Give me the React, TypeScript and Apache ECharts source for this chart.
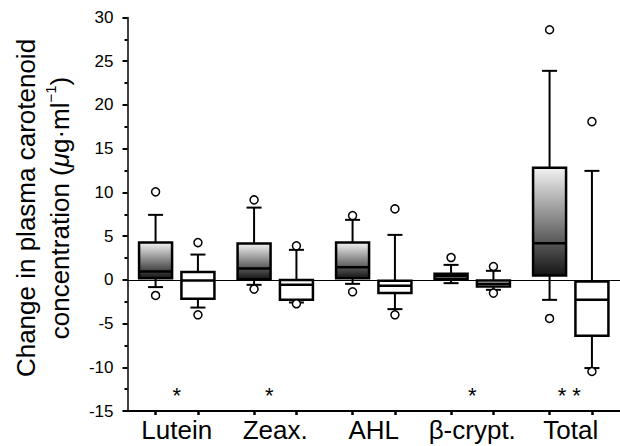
import React, { useEffect, useRef } from 'react';
import * as echarts from 'echarts';

const categories = ['Lutein', 'Zeax.', 'AHL', 'β-crypt.', 'Total'];
// [lower whisker, Q1, median, Q3, upper whisker]
const shadedBoxes = [
  [-0.83, 0.19, 0.95, 4.26, 7.43],
  [-0.57, 0.08, 1.29, 4.15, 8.26],
  [-0.46, 0.19, 1.45, 4.26, 6.86],
  [-0.38, 0.08, 0.46, 0.69, 1.71],
  [-2.29, 0.49, 4.19, 12.83, 23.9],
];
const whiteBoxes = [
  [-3.17, -2.17, -0.08, 0.91, 2.89],
  [-2.59, -2.29, -0.57, -0.02, 3.43],
  [-3.35, -1.52, -0.69, -0.1, 5.14],
  [-1.14, -0.77, -0.46, -0.08, 1.03],
  [-10.09, -6.4, -2.29, -0.19, 12.46],
];
// [category index, value]
const shadedOutliers = [
  [0, 10.06], [0, -1.79],
  [1, 9.14], [1, -1.06],
  [2, 7.35], [2, -1.37],
  [3, 2.55],
  [4, 28.6], [4, -4.42],
];
const whiteOutliers = [
  [0, 4.26], [0, -4.0],
  [1, 3.89], [1, -2.74],
  [2, 8.11], [2, -4.0],
  [3, 1.52], [3, -1.52],
  [4, 18.09], [4, -10.48],
];
// [category index, marker text]
const significance: [number, string][] = [
  [0, '*'],
  [1, '*'],
  [3, '*'],
  [4, '* *'],
];
const sigLevel = -13.2;
const yMin = -15;
const yMax = 30;
const yInterval = 5;

const FONT = "'Liberation Sans', Arial, Helvetica, sans-serif";
const GROUP_OFFSET = 0.215;
const sigShiftPx: Record<number, number> = { 1: -6, 4: -1.5 };

function makeBoxSeries(boxes: number[][], offset: number, shaded: boolean) {
  return {
    type: 'custom',
    xAxisIndex: 1,
    yAxisIndex: 0,
    z: 3,
    data: boxes.map((b, i) => [i + offset, ...b]),
    encode: { x: 0, y: [1, 2, 3, 4, 5] },
    renderItem: (params: any, api: any) => {
      const x = api.value(0);
      const pts = [1, 2, 3, 4, 5].map((d) => api.coord([x, api.value(d)]));
      const cx = pts[0][0];
      const [lo, q1, med, q3, hi] = pts.map((p: number[]) => p[1]);
      const half = 16.5;
      const cap = 7.5;
      const stroke = { stroke: '#000', lineWidth: 2 };
      const fill = shaded
        ? new echarts.graphic.LinearGradient(0, 0, 0, 1, [
            { offset: 0, color: '#f2f2f2' },
            { offset: 1, color: '#151515' },
          ])
        : '#fff';
      return {
        type: 'group',
        children: [
          { type: 'line', shape: { x1: cx, y1: q3, x2: cx, y2: hi }, style: stroke },
          { type: 'line', shape: { x1: cx - cap, y1: hi, x2: cx + cap, y2: hi }, style: stroke },
          { type: 'line', shape: { x1: cx, y1: q1, x2: cx, y2: lo }, style: stroke },
          { type: 'line', shape: { x1: cx - cap, y1: lo, x2: cx + cap, y2: lo }, style: stroke },
          {
            type: 'rect',
            shape: { x: cx - half, y: q3, width: half * 2, height: q1 - q3 },
            style: { fill, stroke: '#000', lineWidth: 2.5 },
          },
          {
            type: 'line',
            shape: { x1: cx - half, y1: med, x2: cx + half, y2: med },
            style: { stroke: '#000', lineWidth: 2.5 },
          },
        ],
      };
    },
  };
}

function makeOutlierSeries(points: number[][], offset: number) {
  return {
    type: 'scatter',
    xAxisIndex: 1,
    yAxisIndex: 0,
    z: 4,
    symbol: 'circle',
    symbolSize: 8,
    itemStyle: { color: '#fff', borderColor: '#000', borderWidth: 1.5, opacity: 1 },
    data: points.map((p) => [p[0] + offset, p[1]]),
  };
}

export default function App() {
  const ref = useRef<HTMLDivElement>(null);
  useEffect(() => {
    if (!ref.current) return;
    const chart = echarts.init(ref.current, null, { renderer: 'svg' });
    const tickPositions: number[] = [];
    categories.forEach((_, i) => {
      tickPositions.push(i - GROUP_OFFSET, i + GROUP_OFFSET);
    });
    chart.setOption({
      animation: false,
      backgroundColor: '#fff',
      grid: { left: 127.5, right: -7.5, top: 17.5, bottom: 35 },
      xAxis: [
        {
          type: 'category',
          data: categories,
          position: 'bottom',
          axisLine: { show: true, onZero: false, lineStyle: { color: '#000', width: 2 } },
          axisTick: { show: false },
          axisLabel: {
            color: '#000',
            fontSize: 26,
            fontFamily: FONT,
            margin: 6,
            interval: 0,
            hideOverlap: false,
          },
          splitLine: { show: false },
        },
        {
          type: 'value',
          min: -0.5,
          max: 4.5,
          position: 'bottom',
          axisLine: { show: false, onZero: false },
          axisTick: {
            show: true,
            customValues: tickPositions,
            length: 4,
            lineStyle: { color: '#000', width: 2.5 },
          },
          axisLabel: { show: false },
          splitLine: { show: false },
        },
      ],
      yAxis: {
        type: 'value',
        min: yMin,
        max: yMax,
        interval: yInterval,
        axisLine: { show: true, onZero: false, lineStyle: { color: '#000', width: 1.5 } },
        axisTick: { show: true, length: 5, lineStyle: { color: '#000', width: 2 } },
        minorTick: { show: true, splitNumber: 2, length: 3, lineStyle: { color: '#000', width: 2 } },
        axisLabel: { color: '#000', fontSize: 17, fontFamily: FONT, margin: 14 },
        splitLine: { show: false },
      },
      graphic: [
        {
          type: 'text',
          x: 43,
          y: 208,
          rotation: Math.PI / 2,
          style: {
            text: 'Change in plasma carotenoid\nconcentration ({i|μ}g·ml{s|−1})',
            font: `26px ${FONT}`,
            fill: '#000',
            lineHeight: 34,
            textAlign: 'center',
            textVerticalAlign: 'middle',
            rich: {
              i: { fontStyle: 'italic', fontSize: 26, fontFamily: FONT, lineHeight: 34 },
              s: { fontSize: 15, fontFamily: FONT, lineHeight: 15, verticalAlign: 'top' },
            },
          },
        },
      ],
      series: [
        {
          type: 'line',
          xAxisIndex: 1,
          yAxisIndex: 0,
          data: [],
          z: 1,
          markLine: {
            silent: true,
            symbol: ['none', 'none'],
            label: { show: false },
            lineStyle: { color: '#000', width: 1, type: 'solid' },
            data: [{ yAxis: 0 }],
            z: 1,
          },
        },
        makeBoxSeries(shadedBoxes, -GROUP_OFFSET, true),
        makeBoxSeries(whiteBoxes, GROUP_OFFSET, false),
        makeOutlierSeries(shadedOutliers, -GROUP_OFFSET),
        makeOutlierSeries(whiteOutliers, GROUP_OFFSET),
        {
          type: 'custom',
          xAxisIndex: 1,
          yAxisIndex: 0,
          z: 5,
          data: significance.map((s) => [s[0], sigLevel]),
          renderItem: (params: any, api: any) => {
            const idx = params.dataIndex;
            const p = api.coord([api.value(0), api.value(1)]);
            return {
              type: 'text',
              x: p[0] + (sigShiftPx[significance[idx][0]] || 0),
              y: p[1],
              style: {
                text: significance[idx][1],
                font: `22px ${FONT}`,
                fill: '#000',
                textAlign: 'center',
                textVerticalAlign: 'middle',
              },
            };
          },
        },
      ],
    });
    return () => chart.dispose();
  }, []);
  return (
    <div
      ref={ref}
      style={{ position: 'fixed', left: 0, top: 0, width: 620, height: 446, background: '#fff' }}
    />
  );
}
